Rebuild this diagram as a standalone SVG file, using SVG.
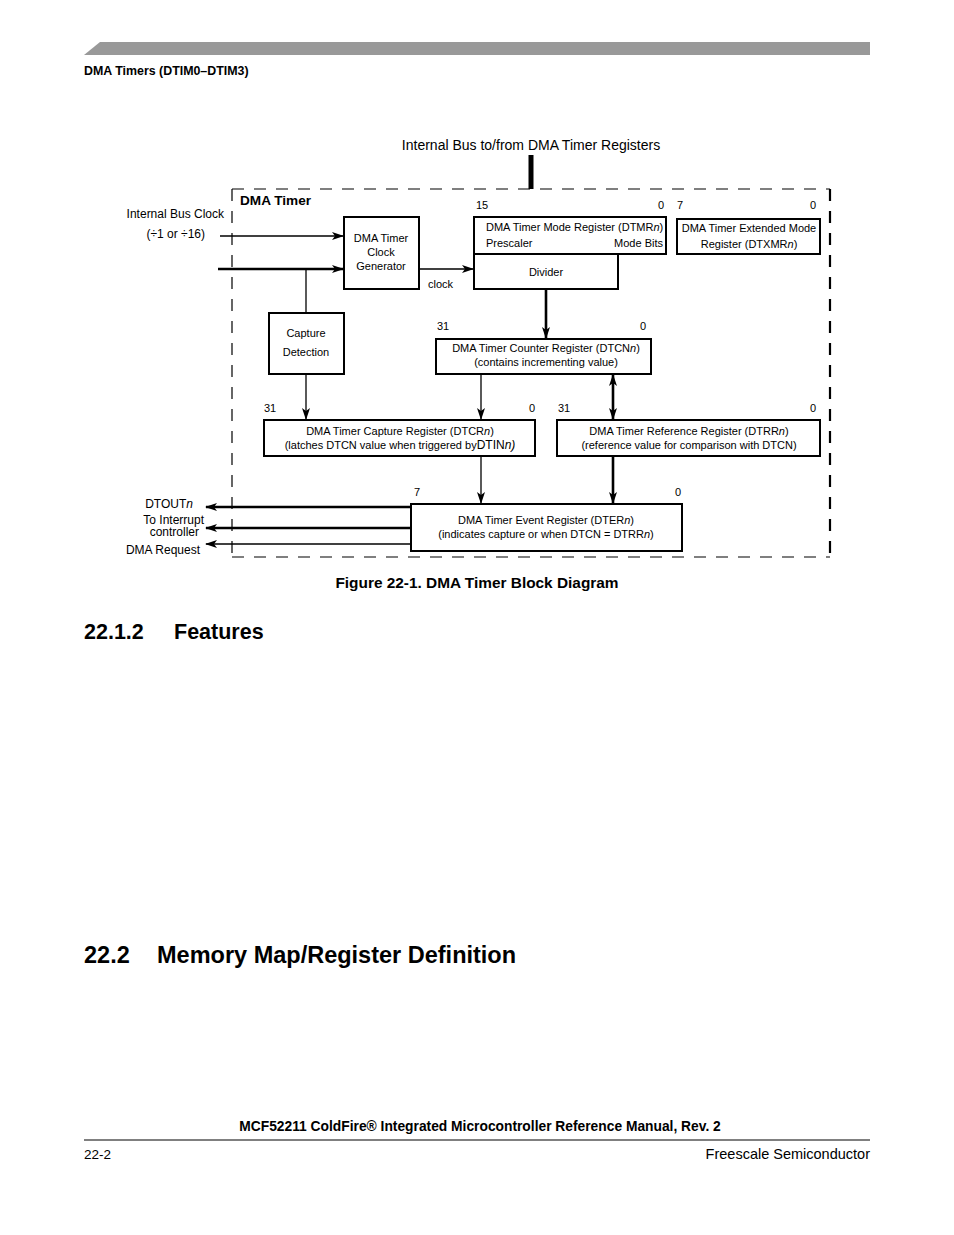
<svg xmlns="http://www.w3.org/2000/svg" width="954" height="1235" viewBox="0 0 954 1235">
<defs>
<marker id="ah" viewBox="0 0 12 8" markerWidth="12" markerHeight="8" refX="11" refY="4" orient="auto" markerUnits="userSpaceOnUse">
<path d="M0,0 L12,4 L0,8 L3,4 z" fill="#000"/>
</marker>
<marker id="ahs" viewBox="0 0 12 8" markerWidth="12" markerHeight="8" refX="1" refY="4" orient="auto" markerUnits="userSpaceOnUse">
<path d="M12,0 L0,4 L12,8 L9,4 z" fill="#000"/>
</marker>
<style>
text{font-family:"Liberation Sans",Arial,sans-serif;fill:#000}
.s{font-size:11px}
.m{font-size:13px}
.b{font-weight:bold}
.box{fill:#fff;stroke:#000;stroke-width:2}
.thin{stroke:#000;stroke-width:1.3;fill:none}
.thick{stroke:#000;stroke-width:2.6;fill:none}
.mid{text-anchor:middle}
.end{text-anchor:end}
</style>
</defs>
<rect width="954" height="1235" fill="#fff"/>
<!-- header -->
<polygon points="84,55 100,42 870,42 870,55" fill="#999"/>
<text x="84" y="75" class="b" style="font-size:12.4px">DMA Timers (DTIM0–DTIM3)</text>
<!-- frame -->
<g id="frame">
<line x1="232" y1="189" x2="830" y2="189" stroke="#000" stroke-width="1.2" stroke-dasharray="12,10"/>
<line x1="232" y1="557" x2="830" y2="557" stroke="#000" stroke-width="1.2" stroke-dasharray="12,10"/>
<line x1="232" y1="189" x2="232" y2="557" stroke="#000" stroke-width="1.2" stroke-dasharray="12,10"/>
<line x1="830" y1="189" x2="830" y2="557" stroke="#000" stroke-width="2.2" stroke-dasharray="12,10"/>
<text x="240" y="205" class="b" style="font-size:13.6px">DMA Timer</text>
</g>
<text x="531" y="150" class="mid" style="font-size:14px">Internal Bus to/from DMA Timer Registers</text>
<text x="224" y="218" class="end" style="font-size:12px">Internal Bus Clock</text>
<text x="205" y="238" class="end" style="font-size:12px">(÷1 or ÷16)</text>
<!-- nodes -->
<g id="clockgen">
<rect x="344" y="217" width="75" height="72" class="box"/>
<text x="381" y="242" class="s mid">DMA Timer</text>
<text x="381" y="256" class="s mid">Clock</text>
<text x="381" y="270" class="s mid">Generator</text>
</g>
<g id="dtmr">
<rect x="474" y="217" width="192" height="37" class="box"/>
<text x="476" y="209" class="s">15</text>
<text x="664" y="209" class="s end">0</text>
<text x="486" y="231" class="s">DMA Timer Mode Register (DTMR<tspan font-style="italic">n</tspan>)</text>
<text x="486" y="247" class="s">Prescaler</text>
<text x="663" y="247" class="s end">Mode Bits</text>
</g>
<g id="divider">
<rect x="474" y="254" width="144" height="35" class="box"/>
<text x="546" y="276" class="s mid">Divider</text>
</g>
<g id="dtxmr">
<rect x="677" y="219" width="143" height="35" class="box"/>
<text x="677" y="209" class="s">7</text>
<text x="816" y="209" class="s end">0</text>
<text x="749" y="232" class="s mid">DMA Timer Extended Mode</text>
<text x="749" y="248" class="s mid">Register (DTXMR<tspan font-style="italic">n</tspan>)</text>
</g>
<g id="capdet">
<rect x="269" y="313" width="75" height="61" class="box"/>
<text x="306" y="337" class="s mid">Capture</text>
<text x="306" y="356" class="s mid">Detection</text>
</g>
<g id="dtcn">
<rect x="436" y="339" width="215" height="35" class="box"/>
<text x="437" y="330" class="s">31</text>
<text x="646" y="330" class="s end">0</text>
<text x="546" y="352" class="s mid">DMA Timer Counter Register (DTCN<tspan font-style="italic">n</tspan>)</text>
<text x="546" y="366" class="s mid">(contains incrementing value)</text>
</g>
<g id="dtcr">
<rect x="264" y="420" width="271" height="36" class="box"/>
<text x="264" y="412" class="s">31</text>
<text x="535" y="412" class="s end">0</text>
<text x="400" y="435" class="s mid">DMA Timer Capture Register (DTCR<tspan font-style="italic">n</tspan>)</text>
<text x="400" y="449" class="s mid">(latches DTCN value when triggered by<tspan style="font-size:12px">DTIN<tspan font-style="italic">n)</tspan></tspan></text>
</g>
<g id="dtrr">
<rect x="557" y="420" width="263" height="36" class="box"/>
<text x="558" y="412" class="s">31</text>
<text x="816" y="412" class="s end">0</text>
<text x="689" y="435" class="s mid">DMA Timer Reference Register (DTRR<tspan font-style="italic">n</tspan>)</text>
<text x="689" y="449" class="s mid">(reference value for comparison with DTCN)</text>
</g>
<g id="dter">
<rect x="411" y="504" width="271" height="47" class="box"/>
<text x="414" y="496" class="s">7</text>
<text x="681" y="496" class="s end">0</text>
<text x="546" y="524" class="s mid">DMA Timer Event Register (DTER<tspan font-style="italic">n</tspan>)</text>
<text x="546" y="538" class="s mid">(indicates capture or when DTCN = DTRR<tspan font-style="italic">n</tspan>)</text>
</g>
<!-- output labels -->
<text x="193" y="508" class="end" style="font-size:12px">DTOUT<tspan font-style="italic">n</tspan></text>
<text x="204" y="524" class="end" style="font-size:12px">To Interrupt</text>
<text x="199" y="536" class="end" style="font-size:12px">controller</text>
<text x="200" y="554" class="end" style="font-size:12px">DMA Request</text>
<text x="428" y="288" class="s">clock</text>
<!-- connectors -->
<g id="connectors">
<line x1="531" y1="155" x2="531" y2="189" stroke="#000" stroke-width="5"/>
<line x1="220" y1="236" x2="343" y2="236" class="thin" marker-end="url(#ah)"/>
<line x1="218" y1="269" x2="343" y2="269" class="thick" marker-end="url(#ah)"/>
<line x1="306" y1="269" x2="306" y2="313" class="thin"/>
<line x1="419" y1="269" x2="473" y2="269" class="thin" marker-end="url(#ah)"/>
<line x1="546" y1="289" x2="546" y2="338" class="thick" marker-end="url(#ah)"/>
<line x1="306" y1="374" x2="306" y2="419" class="thin" marker-end="url(#ah)"/>
<line x1="481" y1="374" x2="481" y2="419" class="thin" marker-end="url(#ah)"/>
<line x1="613" y1="375" x2="613" y2="419" class="thick" marker-start="url(#ahs)" marker-end="url(#ah)"/>
<line x1="481" y1="456" x2="481" y2="503" class="thin" marker-end="url(#ah)"/>
<line x1="613" y1="456" x2="613" y2="503" class="thick" marker-end="url(#ah)"/>
<line x1="411" y1="507" x2="206" y2="507" class="thick" marker-end="url(#ah)"/>
<line x1="411" y1="528" x2="206" y2="528" class="thick" marker-end="url(#ah)"/>
<line x1="411" y1="544" x2="206" y2="544" class="thin" marker-end="url(#ah)"/>
</g>
<text x="477" y="588" class="b mid" style="font-size:15.4px">Figure 22-1. DMA Timer Block Diagram</text>
<text x="84" y="639" class="b" style="font-size:21.5px">22.1.2</text>
<text x="174" y="639" class="b" style="font-size:21.5px">Features</text>
<text x="84" y="963" class="b" style="font-size:23.5px">22.2</text>
<text x="157" y="963" class="b" style="font-size:23.5px">Memory Map/Register Definition</text>
<text x="480" y="1131" class="b mid" style="font-size:13.8px">MCF52211 ColdFire® Integrated Microcontroller Reference Manual, Rev. 2</text>
<line x1="84" y1="1140" x2="870" y2="1140" stroke="#000" stroke-width="1"/>
<text x="84" y="1159" style="font-size:13.5px">22-2</text>
<text x="870" y="1159" class="end" style="font-size:14.5px">Freescale Semiconductor</text>
</svg>
